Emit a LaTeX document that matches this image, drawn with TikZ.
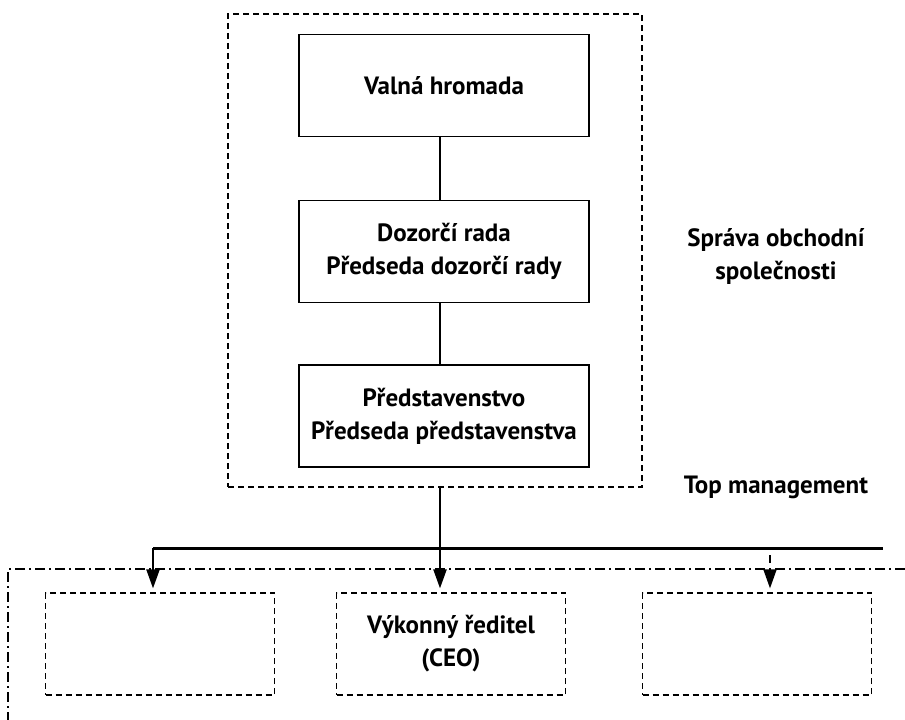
\documentclass[tikz,border=0pt]{standalone}
\usepackage{fontspec}
\setmainfont{PT Sans}
\usepackage{tikz}
\usetikzlibrary{arrows.meta, positioning}
\begin{document}
\begin{tikzpicture}[x=1pt,y=-1pt,
                        font=\fontsize{25}{33}\selectfont\bfseries,
                        box/.style={draw,line width=1.5pt,minimum width=290pt,minimum height=102pt,align=center,inner sep=0pt},
                        subbox/.style={draw,line width=1.2pt,dash pattern=on 6pt off 4pt,minimum width=229pt,minimum height=102pt,align=center,inner sep=0pt},
                        lbl/.style={align=center,inner sep=0pt},
                        tip/.style={-{Triangle[length=19pt,width=13pt]}}]

                        \useasboundingbox (0,0) rectangle (905,720);
                        % \draw group box
                        \node[draw,line width=1.2pt,dash pattern=on 6pt off 4pt,minimum width=414pt,minimum height=473pt,inner sep=0pt] (sprava) at (435,250.5) {};
                        % \draw boxes
                        \node[box] (valna) at (444,85.5) {Valná hromada};
                        \node[box] (dozor) at (444,251.5) {Dozorčí rada\\Předseda dozorčí rady};
                        \node[box] (predst) at (444,416) {Představenstvo\\Předseda představenstva};
                        % \draw labels
                        \node[lbl] (spravalbl) at (776,256) {Správa obchodní\\společnosti};
                        \node[lbl] (toplbl) at (776,487) {Top management};
                        % \draw lower boxes
                        \node[subbox] (left) at (160,644) {};
                        \node[subbox] (ceo) at (451,644) {Výkonný ředitel\\(CEO)};
                        \node[subbox] (right) at (757,644) {};
                        % \draw lines
                        \draw[line width=1.8pt] ([xshift=-4pt]valna.south) -- ([xshift=-4pt]dozor.north);
                        \draw[line width=1.8pt] ([xshift=-4pt]dozor.south) -- ([xshift=-4pt]predst.north);

                        \coordinate (hub) at (440,548);
                        \coordinate (lend) at (153,548);
                        \coordinate (rend) at (883,548);
                        \coordinate (dsh) at (770,555);
                        \draw[line width=3pt] (lend) -- (rend);
                        \draw[tip,line width=2.2pt,shorten >=4pt] (sprava.south -| hub) -- (ceo.north -| hub);
                        \draw[tip,line width=2.2pt,shorten >=4pt] (lend) -- (left.north -| lend);
                        \draw[tip,line width=1.8pt,dash pattern=on 8pt off 5pt,shorten >=4pt] (dsh) -- (right.north -| dsh);
                        % \draw dash dot area
                        \draw[line width=1.2pt,dash pattern=on 10pt off 4pt on 2pt off 4pt] (905,569) -- (8,569) -- (8,720);
                        \end{tikzpicture}
\end{document}
